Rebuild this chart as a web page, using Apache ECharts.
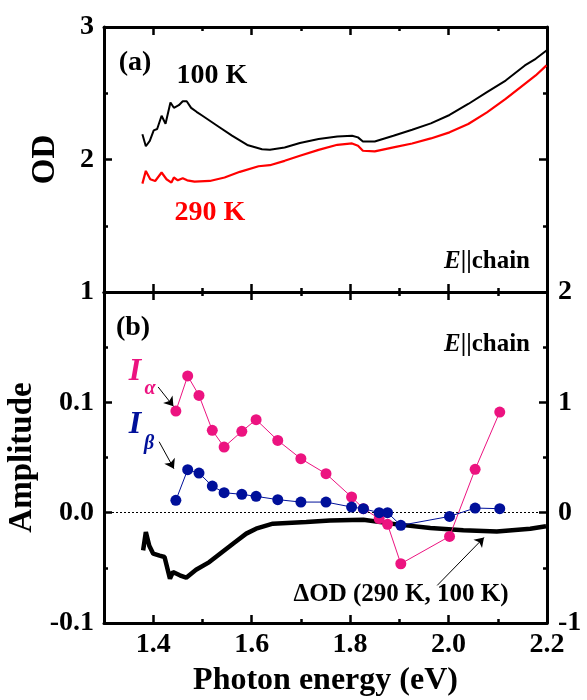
<!DOCTYPE html>
<html>
<head>
<meta charset="utf-8">
<script src="https://cdn.jsdelivr.net/npm/echarts@6/dist/echarts.min.js"></script>
<style>
  html, body { margin: 0; padding: 0; background: #fff; }
  #chart { width: 587px; height: 700px; }
</style>
</head>
<body>
<div id="chart"></div>
<script>
// ---- Panel (a): optical density spectra ----
const eOD100 = [1.378,1.385,1.393,1.401,1.408,1.417,1.425,1.435,1.442,1.452,1.460,1.468,1.477,1.488,1.500,1.530,1.560,1.591,1.621,1.637,1.667,1.698,1.736,1.774,1.804,1.816,1.826,1.850,1.888,1.926,1.964,2.002,2.040,2.078,2.116,2.155,2.177,2.199];
const od100  = [2.19,2.10,2.14,2.22,2.23,2.33,2.27,2.43,2.39,2.41,2.44,2.44,2.39,2.36,2.33,2.255,2.18,2.11,2.078,2.073,2.09,2.124,2.154,2.174,2.179,2.167,2.136,2.136,2.179,2.225,2.273,2.336,2.419,2.508,2.596,2.71,2.76,2.823];

const eOD290 = [1.378,1.385,1.394,1.404,1.417,1.427,1.437,1.442,1.450,1.460,1.469,1.484,1.515,1.545,1.576,1.614,1.637,1.667,1.698,1.736,1.774,1.804,1.816,1.826,1.850,1.888,1.926,1.964,2.002,2.040,2.078,2.116,2.155,2.177,2.199];
const od290  = [1.818,1.914,1.851,1.838,1.902,1.851,1.826,1.864,1.843,1.859,1.843,1.833,1.838,1.864,1.907,1.949,1.957,1.990,2.028,2.073,2.111,2.121,2.104,2.066,2.061,2.091,2.121,2.159,2.205,2.268,2.356,2.457,2.571,2.634,2.710];

// ---- Panel (b): difference spectrum (right axis) and oscillation amplitudes (left axis) ----
const eDOD = [1.3795,1.385,1.392,1.400,1.413,1.423,1.434,1.440,1.454,1.467,1.487,1.514,1.562,1.589,1.609,1.643,1.711,1.759,1.827,1.895,1.963,2.030,2.098,2.166,2.198];
const dOD  = [-0.342,-0.176,-0.30,-0.372,-0.39,-0.402,-0.598,-0.538,-0.568,-0.589,-0.517,-0.448,-0.281,-0.190,-0.145,-0.10,-0.085,-0.07,-0.064,-0.106,-0.139,-0.16,-0.17,-0.145,-0.124];

const eProbe = [1.446,1.470,1.493,1.520,1.544,1.580,1.609,1.653,1.700,1.751,1.803,1.827,1.859,1.876,1.903,2.002,2.054,2.104];
const iAlpha = [0.0921,0.1239,0.1063,0.0746,0.0595,0.0737,0.0843,0.0655,0.0489,0.0353,0.0142,0.0036,-0.0054,-0.0106,-0.0463,-0.0215,0.0393,0.0912];
const iBeta  = [0.0112,0.0390,0.0359,0.0241,0.0181,0.0166,0.0148,0.0118,0.0096,0.0096,0.0051,0.0036,0.0,0.0,-0.0115,-0.0034,0.0042,0.0036];

// ---- Energy tick positions: every 0.1 eV, labelled every 0.2 eV ----
const xTicks = ['1.3','1.4','1.5','1.6','1.7','1.8','1.9','2.0','2.1','2.2'];

const FONT = '"Liberation Serif", "Times New Roman", serif';
const PINK = '#ec1380';
const BLUE = '#00109a';

const pairs = (xs, ys) => xs.map((x, i) => [x, ys[i]]);

const frameLine = { show: true, onZero: false, lineStyle: { color: '#000', width: 3 } };
const noLine = { show: false, onZero: false };
const tickStyle = { width: 2.5, color: '#000' };
const labelFont = { fontFamily: FONT, fontWeight: 'bold', fontSize: 28, color: '#000' };
const titleFont = { fontFamily: FONT, fontWeight: 'bold', fontSize: 33, color: '#000' };

const isMajor = i => i % 2 === 1;   // 1.4, 1.6, ... 2.2
const isMinor = i => i % 2 === 0 && i > 0;

// hidden value axes carry the data; category layers draw the frame ticks
function valueX(gridIndex) {
  return { type: 'value', gridIndex, min: 1.3, max: 2.2, show: false };
}
function tickLayer(gridIndex, position, major, labelled) {
  const ax = {
    type: 'category', gridIndex, position, data: xTicks, boundaryGap: false,
    axisLine: major ? frameLine : noLine,
    axisTick: { show: true, inside: true, length: major ? 8 : 4, interval: major ? (i => isMajor(i)) : (i => isMinor(i)), lineStyle: tickStyle },
    axisLabel: { show: false },
    splitLine: { show: false }
  };
  if (labelled) {
    ax.axisLabel = Object.assign({ show: true, margin: 8, interval: i => isMajor(i) }, labelFont);
    ax.name = 'Photon energy (eV)';
    ax.nameLocation = 'middle';
    ax.nameGap = 42;
    ax.nameTextStyle = Object.assign({}, titleFont, { fontSize: 32 });
  }
  return ax;
}

function yAxisDef(gridIndex, position, min, max, interval, opts) {
  return Object.assign({
    type: 'value', gridIndex, position, min, max, interval,
    splitLine: { show: false },
    axisLine: frameLine,
    axisTick: { show: true, inside: true, length: 8, lineStyle: tickStyle },
    minorTick: { show: true, splitNumber: 2, length: 4, lineStyle: tickStyle },
    axisLabel: { show: false }
  }, opts || {});
}

const xAxes = [
  valueX(0),                         // 0: panel (a) data
  valueX(1),                         // 1: panel (b) data
  tickLayer(0, 'bottom', true), tickLayer(0, 'bottom', false),
  tickLayer(0, 'top', true),    tickLayer(0, 'top', false),
  tickLayer(1, 'bottom', true, true), tickLayer(1, 'bottom', false),
  tickLayer(1, 'top', true),    tickLayer(1, 'top', false)
];

const yAxes = [
  yAxisDef(0, 'left', 1, 3, 1, {
    axisLabel: Object.assign({ show: true, margin: 10 }, labelFont),
    name: 'OD', nameLocation: 'middle', nameGap: 42, nameRotate: 90, nameTextStyle: titleFont
  }),
  yAxisDef(0, 'right', 1, 3, 1),
  yAxisDef(1, 'left', -0.1, 0.2, 0.1, {
    axisLabel: Object.assign({ show: true, margin: 10, showMaxLabel: false, formatter: v => v.toFixed(1) }, labelFont),
    name: 'Amplitude', nameLocation: 'middle', nameGap: 53, nameRotate: 90, nameTextStyle: titleFont
  }),
  yAxisDef(1, 'right', -1, 2, 1, {
    axisLabel: Object.assign({ show: true, margin: 11 }, labelFont)
  })
];

const arrowLine = (from, to) => ({
  silent: true,
  symbol: ['none', 'arrow'],
  symbolSize: 9,
  label: { show: false },
  emphasis: { disabled: true },
  lineStyle: { color: '#000', width: 1, type: 'solid' },
  itemStyle: { color: '#000' },
  data: [[{ coord: from }, { coord: to }]]
});

const option = {
  animation: false,
  backgroundColor: '#fff',
  grid: [
    { left: 104, right: 40, top: 27, height: 265, outerBoundsMode: 'none' },
    { left: 104, right: 40, top: 292, height: 331, outerBoundsMode: 'none' }
  ],
  xAxis: xAxes,
  yAxis: yAxes,
  series: [
    {
      name: '100 K', type: 'line', xAxisIndex: 0, yAxisIndex: 0,
      data: pairs(eOD100, od100), showSymbol: false, symbol: 'none',
      lineStyle: { color: '#000', width: 2 }, z: 3
    },
    {
      name: '290 K', type: 'line', xAxisIndex: 0, yAxisIndex: 0,
      data: pairs(eOD290, od290), showSymbol: false, symbol: 'none',
      lineStyle: { color: '#ff0000', width: 2.2 }, z: 3
    },
    {
      name: 'ΔOD', type: 'line', xAxisIndex: 1, yAxisIndex: 3,
      data: pairs(eDOD, dOD), showSymbol: false, symbol: 'none',
      lineStyle: { color: '#000', width: 4.5 }, z: 2,
      markLine: arrowLine([1.977, -0.659], [2.072, -0.225])
    },
    {
      name: 'Iα', type: 'line', xAxisIndex: 1, yAxisIndex: 2,
      data: pairs(eProbe, iAlpha), symbol: 'circle', symbolSize: 11, showSymbol: true,
      itemStyle: { color: PINK }, lineStyle: { color: PINK, width: 1 }, z: 4,
      markLine: {
        silent: true, symbol: ['none', 'none'], label: { show: false },
        emphasis: { disabled: true },
        lineStyle: { color: '#000', width: 1, type: [2, 2] },
        data: [{ yAxis: 0 }]
      }
    },
    {
      name: 'Iα arrow', type: 'line', xAxisIndex: 1, yAxisIndex: 2, data: [],
      markLine: arrowLine([1.410, 0.1139], [1.441, 0.0964])
    },
    {
      name: 'Iβ', type: 'line', xAxisIndex: 1, yAxisIndex: 2,
      data: pairs(eProbe, iBeta), symbol: 'circle', symbolSize: 11, showSymbol: true,
      itemStyle: { color: BLUE }, lineStyle: { color: BLUE, width: 1 }, z: 5,
      markLine: arrowLine([1.412, 0.0643], [1.442, 0.0399])
    }
  ],
  graphic: [
    { type: 'text', style: { text: '(a)', x: 135, y: 63, align: 'center', verticalAlign: 'middle', font: 'bold 28px ' + FONT, fill: '#000' } },
    { type: 'text', style: { text: '100 K', x: 212, y: 76, align: 'center', verticalAlign: 'middle', font: 'bold 28px ' + FONT, fill: '#000' } },
    { type: 'text', style: { text: '290 K', x: 210, y: 213, align: 'center', verticalAlign: 'middle', font: 'bold 28px ' + FONT, fill: '#ff0000' } },
    { type: 'text', style: {
        text: '{e|E}{n|||chain}', x: 530, y: 262, align: 'right', verticalAlign: 'middle',
        rich: {
          e: { fontFamily: FONT, fontWeight: 'bold', fontStyle: 'italic', fontSize: 25, fill: '#000' },
          n: { fontFamily: FONT, fontWeight: 'bold', fontSize: 25, fill: '#000' }
        }
    } },
    { type: 'text', style: { text: '(b)', x: 133, y: 328, align: 'center', verticalAlign: 'middle', font: 'bold 28px ' + FONT, fill: '#000' } },
    { type: 'text', style: {
        text: '{e|E}{n|||chain}', x: 530, y: 345, align: 'right', verticalAlign: 'middle',
        rich: {
          e: { fontFamily: FONT, fontWeight: 'bold', fontStyle: 'italic', fontSize: 25, fill: '#000' },
          n: { fontFamily: FONT, fontWeight: 'bold', fontSize: 25, fill: '#000' }
        }
    } },
    { type: 'text', style: { text: 'I', x: 135, y: 372, align: 'center', verticalAlign: 'middle', font: 'italic bold 32px ' + FONT, fill: PINK } },
    { type: 'text', style: { text: 'α', x: 150, y: 389, align: 'center', verticalAlign: 'middle', font: 'italic bold 20px ' + FONT, fill: PINK } },
    { type: 'text', style: { text: 'I', x: 135, y: 425, align: 'center', verticalAlign: 'middle', font: 'italic bold 32px ' + FONT, fill: BLUE } },
    { type: 'text', style: { text: 'β', x: 149, y: 444, align: 'center', verticalAlign: 'middle', font: 'italic bold 20px ' + FONT, fill: BLUE } },
    { type: 'text', style: { text: 'ΔOD (290 K, 100 K)', x: 401, y: 595, align: 'center', verticalAlign: 'middle', font: 'bold 25px ' + FONT, fill: '#000' } }
  ]
};

const chart = echarts.init(document.getElementById('chart'), null, { renderer: 'canvas' });
chart.setOption(option);
</script>
</body>
</html>
